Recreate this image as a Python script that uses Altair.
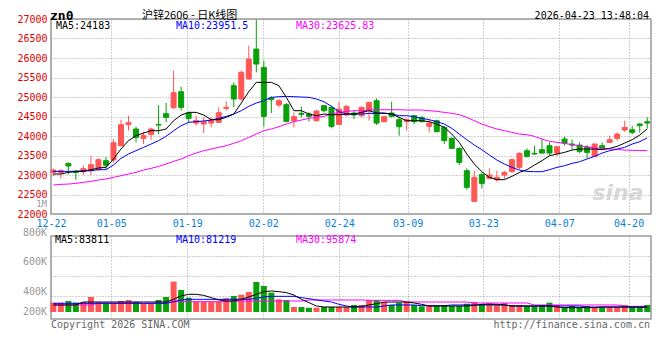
import json
import altair as alt
import pandas as pd

# ---------------- data ----------------
opens = [23067, 23059, 23298, 23102, 23085, 23110, 23136, 23367, 23384, 23751,
         24290, 24179, 23939, 24042, 24298, 24572, 24726, 25136, 24589, 24332,
         24307, 24332, 24350, 24709, 25290, 24948, 25461, 26230, 25760, 24974,
         24794, 24803, 24392, 24580, 24563, 24392, 24777, 24734, 24298, 24538,
         24589, 24521, 24649, 24905, 24367, 24589, 24418, 24367, 24521, 24478,
         24247, 24392, 24221, 23939, 23683, 23110, 22324, 23008, 22914, 22880,
         22999, 23085, 23196, 23623, 23555, 23649, 23751, 23563, 23922, 23794,
         23768, 23709, 23478, 23751, 23837, 23939, 24153, 24161, 24307, 24367]
highs = [23170, 23153, 23324, 23127, 23238, 23495, 23426, 23461, 23922, 24418,
         24521, 24238, 24110, 24213, 24794, 24845, 25674, 25264, 24623, 24521,
         24478, 24478, 24734, 24888, 25375, 25674, 26315, 26980, 25931, 25016,
         24948, 24845, 24606, 24751, 24606, 24666, 24794, 24777, 24879, 24794,
         24649, 24760, 24879, 24965, 24521, 24879, 24478, 24452, 24538, 24503,
         24418, 24418, 24264, 23965, 23709, 23170, 23110, 23067, 23170, 23110,
         23110, 23426, 23580, 23683, 23751, 23922, 23837, 23734, 23982, 23905,
         23837, 23768, 23811, 23837, 24008, 24093, 24392, 24264, 24332, 24478]
lows = [22965, 22914, 23016, 22880, 22999, 22999, 23110, 23153, 23324, 23734,
        24136, 23837, 23794, 23905, 24050, 24350, 24691, 24649, 24350, 24264,
        24076, 24221, 24332, 24649, 24734, 24905, 25444, 25632, 24238, 24589,
        24734, 24350, 24221, 24478, 24367, 24367, 24606, 24196, 24281, 24521,
        24435, 24478, 24392, 24281, 24350, 24478, 24008, 24136, 24307, 24350,
        24093, 24093, 23794, 23666, 23256, 22623, 22324, 22657, 22897, 22828,
        22897, 23050, 23153, 23444, 23512, 23546, 23512, 23495, 23751, 23649,
        23563, 23427, 23461, 23666, 23819, 23880, 24110, 24042, 24093, 24196]
closes = [23127, 23110, 23230, 23067, 23162, 23264, 23392, 23247, 23828, 24290,
          24341, 23965, 24008, 24179, 24281, 24478, 25110, 24734, 24452, 24401,
          24367, 24409, 24597, 24734, 24948, 25632, 25973, 25845, 24503, 24931,
          24905, 24375, 24495, 24555, 24503, 24640, 24649, 24247, 24691, 24760,
          24538, 24734, 24862, 24332, 24495, 24503, 24238, 24418, 24367, 24367,
          24332, 24110, 23880, 23683, 23324, 22683, 22939, 22785, 22999, 22939,
          23067, 23392, 23555, 23478, 23538, 23563, 23563, 23725, 23819, 23768,
          23606, 23580, 23794, 23691, 23905, 24050, 24221, 24093, 24264, 24332]
ma5 = [23025, 23025, 23067, 23085, 23093, 23136, 23179, 23196, 23410, 23666,
       23880, 24008, 24076, 24136, 24136, 24179, 24392, 24538, 24606, 24606,
       24538, 24418, 24418, 24478, 24563, 24845, 25136, 25375, 25375, 25375,
       25290, 24991, 24649, 24649, 24563, 24521, 24563, 24546, 24546, 24563,
       24563, 24606, 24649, 24589, 24589, 24563, 24478, 24392, 24392, 24392,
       24367, 24307, 24221, 24050, 23837, 23538, 23281, 23085, 22939, 22880,
       22880, 22965, 23067, 23136, 23256, 23367, 23495, 23538, 23580, 23640,
       23666, 23666, 23666, 23649, 23683, 23734, 23819, 23905, 24025, 24183]
ma10 = [23093, 23093, 23093, 23093, 23110, 23110, 23136, 23136, 23256, 23427,
        23538, 23623, 23709, 23794, 23880, 23991, 24136, 24264, 24350, 24367,
        24384, 24409, 24452, 24503, 24563, 24649, 24760, 24845, 24905, 24991,
        25008, 25016, 25008, 24999, 24991, 24948, 24879, 24760, 24623, 24563,
        24563, 24563, 24580, 24580, 24580, 24563, 24521, 24521, 24495, 24452,
        24418, 24367, 24307, 24196, 24050, 23905, 23768, 23649, 23512, 23384,
        23281, 23196, 23127, 23093, 23085, 23085, 23136, 23196, 23238, 23298,
        23341, 23410, 23478, 23563, 23623, 23666, 23709, 23794, 23854, 23951.5]
ma30 = [22743, 22760, 22768, 22785, 22811, 22837, 22871, 22897, 22939, 22982,
        23025, 23067, 23127, 23170, 23221, 23281, 23350, 23410, 23495, 23563,
        23623, 23666, 23709, 23751, 23811, 23880, 23965, 24050, 24136, 24179,
        24238, 24307, 24367, 24409, 24452, 24478, 24503, 24563, 24606, 24632,
        24649, 24649, 24666, 24674, 24674, 24674, 24674, 24666, 24666, 24666,
        24649, 24632, 24606, 24580, 24546, 24478, 24392, 24307, 24238, 24179,
        24136, 24093, 24050, 24033, 23991, 23922, 23862, 23837, 23811, 23777,
        23751, 23725, 23691, 23683, 23666, 23652, 23640, 23632, 23628, 23625.83]
volumes = [157000, 157000, 185000, 157000, 168000, 252000, 168000, 157000, 157000, 185000,
           202000, 168000, 140000, 140000, 202000, 252000, 510000, 370000, 241000, 168000,
           168000, 168000, 168000, 230000, 269000, 291000, 336000, 504000, 437000, 325000,
           213000, 202000, 84000, 84000, 73000, 73000, 84000, 84000, 84000, 84000,
           118000, 118000, 202000, 202000, 168000, 118000, 157000, 174000, 118000, 95000,
           118000, 101000, 118000, 101000, 101000, 140000, 168000, 129000, 151000, 118000,
           151000, 118000, 118000, 101000, 101000, 118000, 157000, 118000, 84000, 101000,
           84000, 101000, 84000, 84000, 84000, 84000, 118000, 84000, 84000, 118000]
vol_ma5 = [118000, 118000, 118000, 118000, 168000, 168000, 168000, 168000, 168000, 168000,
           168000, 168000, 168000, 168000, 168000, 168000, 213000, 269000, 297000, 297000,
           280000, 241000, 202000, 185000, 185000, 213000, 252000, 297000, 342000, 353000,
           342000, 325000, 286000, 213000, 157000, 101000, 84000, 84000, 84000, 84000,
           84000, 95000, 118000, 140000, 168000, 168000, 168000, 168000, 151000, 129000,
           101000, 101000, 101000, 101000, 101000, 101000, 112000, 129000, 129000, 129000,
           118000, 101000, 101000, 101000, 101000, 101000, 101000, 84000, 73000, 73000,
           73000, 73000, 73000, 84000, 84000, 84000, 84000, 84000, 84000, 83811]
vol_ma10 = [146000, 146000, 146000, 146000, 146000, 146000, 146000, 146000, 146000, 146000,
            146000, 146000, 146000, 146000, 146000, 146000, 174000, 202000, 213000, 213000,
            213000, 213000, 213000, 213000, 213000, 213000, 213000, 230000, 252000, 263000,
            263000, 263000, 263000, 241000, 224000, 202000, 185000, 168000, 129000, 101000,
            84000, 84000, 84000, 84000, 101000, 118000, 118000, 118000, 118000, 106000,
            106000, 106000, 106000, 118000, 118000, 118000, 118000, 118000, 118000, 118000,
            118000, 101000, 101000, 101000, 101000, 101000, 101000, 101000, 101000, 101000,
            101000, 84000, 84000, 84000, 84000, 84000, 84000, 84000, 84000, 81219]
vol_ma30 = [118000, 118000, 118000, 118000, 118000, 118000, 146000, 146000, 146000, 146000,
            146000, 146000, 146000, 146000, 146000, 146000, 174000, 174000, 174000, 174000,
            174000, 174000, 174000, 174000, 174000, 185000, 185000, 185000, 185000, 185000,
            185000, 185000, 185000, 185000, 202000, 202000, 202000, 202000, 202000, 202000,
            202000, 202000, 196000, 196000, 196000, 196000, 196000, 168000, 168000, 168000,
            168000, 168000, 168000, 168000, 168000, 168000, 151000, 151000, 151000, 151000,
            151000, 151000, 151000, 151000, 118000, 118000, 118000, 118000, 118000, 118000,
            118000, 118000, 118000, 118000, 118000, 118000, 95000, 95000, 95000, 95874]

tick_pos = [-0.31, 7.71, 17.82, 27.93, 38.03, 47.13, 57.18, 67.29, 76.52]
tick_labels = ["12-22", "01-05", "01-19", "02-02", "02-24", "03-09", "03-23", "04-07", "04-20"]
price_ticks = [22000, 22500, 23000, 23500, 24000, 24500, 25000, 25500, 26000, 26500, 27000]
vol_grid = [264000, 600000, 936000]
vol_label_text = ["800K", "600K", "400K", "200K"]
vol_label_pos = [1327200, 848400, 336000, 0]

# ---------------- chart ----------------
n = len(closes)
df = pd.DataFrame({
    "i": list(range(n)),
    "open": opens, "high": highs, "low": lows, "close": closes,
    "vol": volumes, "ma5": ma5, "ma10": ma10, "ma30": ma30,
    "vma5": vol_ma5, "vma10": vol_ma10, "vma30": vol_ma30,
})
df["dir"] = ["up" if c >= o else "down" for o, c in zip(opens, closes)]

RED = "#ff5656"
GREEN = "#09a009"
MONO = "DejaVu Sans Mono"
GRID = "#a0a0a0"

xscale = alt.Scale(domain=[-0.31, 79.5], nice=False, zero=False, padding=0)
label_expr = f"{json.dumps(tick_labels)}[indexof({json.dumps(tick_pos)}, datum.value)]"
x_main = alt.X("i:Q", scale=xscale, axis=alt.Axis(
    values=tick_pos, labelExpr=label_expr, title=None, grid=True, gridColor=GRID,
    gridDash=[1, 2], ticks=False, tickSize=0, domain=False, labelColor="#0a7fd6",
    labelFont=MONO, labelFontSize=10, labelPadding=4, labelFlush=False,
    labelOverlap=False, labelBound=False))
x_vol = alt.X("i:Q", scale=xscale, axis=alt.Axis(
    values=tick_pos, labels=False, title=None, grid=True, gridColor=GRID,
    gridDash=[1, 2], ticks=False, tickSize=0, domain=False))

yscale = alt.Scale(domain=[22000, 27000], nice=False, zero=False, padding=0)
y_axis = alt.Axis(values=price_ticks, format="d", title=None, grid=True, gridColor=GRID,
                  gridDash=[1, 2], ticks=False, tickSize=0, domain=False,
                  labelColor="#e00000", labelFont=MONO, labelFontSize=10, labelPadding=4)


def Y(field):
    return alt.Y(field, scale=yscale, axis=y_axis)


dir_scale = alt.Scale(domain=["up", "down"], range=[RED, GREEN])
base = alt.Chart(df)

wicks = base.mark_rule(strokeWidth=1).encode(
    x=x_main, y=Y("low:Q"), y2="high:Q",
    color=alt.Color("dir:N", scale=dir_scale, legend=None))
bodies = base.mark_bar(size=5, strokeWidth=1).encode(
    x=x_main, y=Y("open:Q"), y2="close:Q",
    fill=alt.Fill("dir:N", scale=dir_scale, legend=None),
    stroke=alt.Stroke("dir:N", scale=dir_scale, legend=None))
l30 = base.mark_line(color="#ff00ff", strokeWidth=1).encode(x=x_main, y=Y("ma30:Q"))
l10 = base.mark_line(color="#0000ff", strokeWidth=1).encode(x=x_main, y=Y("ma10:Q"))
l5 = base.mark_line(color="#000000", strokeWidth=1).encode(x=x_main, y=Y("ma5:Q"))


def note(text, x, y, color, size=10, align="left", font=MONO, weight="normal",
         style="normal", opacity=1.0):
    return alt.Chart(pd.DataFrame({"t": [text]})).mark_text(
        align=align, baseline="middle", font=font, fontSize=size, color=color,
        fontWeight=weight, fontStyle=style, opacity=opacity
    ).encode(x=alt.value(x), y=alt.value(y), text="t:N")


one_m = alt.Chart(pd.DataFrame({"t": ["1M"], "v": [22250]})).mark_text(
    align="right", baseline="middle", font=MONO, fontSize=9, color="#999999"
).encode(x=alt.value(-4), y=Y("v:Q"), text="t:N")

main = alt.layer(
    wicks, bodies, l30, l10, l5, one_m,
    note("sina", 567, 174, "#cfcfcf", size=22, align="center", font="DejaVu Sans",
         weight="bold", style="italic", opacity=0.8),
    note("zn0", -1, -3.5, "#000000", size=13, weight="bold"),
    note("沪锌2606 - 日K线图", 91, -3, "#000000", size=11, font="Noto Sans CJK SC"),
    note("2026-04-23 13:48:04", 598, -3.5, "#000000", align="right"),
    note("MA5:24183", 5, 6.5, "#000000"),
    note("MA10:23951.5", 125, 6.5, "#0000ff"),
    note("MA30:23625.83", 245, 6.5, "#ff00ff"),
).properties(width=600, height=195)

vscale = alt.Scale(domain=[-117600, 1276800], nice=False, zero=False, padding=0)
v_axis = alt.Axis(values=vol_grid, labels=False, title=None, grid=True, gridColor=GRID,
                  gridDash=[1, 2], ticks=False, tickSize=0, domain=False)


def VY(field):
    return alt.Y(field, scale=vscale, axis=v_axis)


vbars = base.mark_bar(size=6).encode(
    x=x_vol, y=VY("vol:Q"), y2=alt.datum(0),
    color=alt.Color("dir:N", scale=dir_scale, legend=None))
vl30 = base.mark_line(color="#ff00ff", strokeWidth=1).encode(x=x_vol, y=VY("vma30:Q"))
vl10 = base.mark_line(color="#0000ff", strokeWidth=1).encode(x=x_vol, y=VY("vma10:Q"))
vl5 = base.mark_line(color="#000000", strokeWidth=1).encode(x=x_vol, y=VY("vma5:Q"))
vlabels = alt.Chart(pd.DataFrame({"t": vol_label_text, "v": vol_label_pos})).mark_text(
    align="right", baseline="middle", font=MONO, fontSize=10, color="#999999"
).encode(x=alt.value(-4), y=VY("v:Q"), text="t:N")

vol = alt.layer(
    vbars, vl30, vl10, vl5, vlabels,
    note("MA5:83811", 4, 3.5, "#000000"),
    note("MA10:81219", 125, 3.5, "#0000ff"),
    note("MA30:95874", 245, 3.5, "#ff00ff"),
    note("Copyright 2026 SINA.COM", 0, 88.5, "#666666"),
    note("http://finance.sina.com.cn", 599, 88.5, "#666666", align="right"),
).properties(width=600, height=83)

chart = alt.vconcat(main, vol, spacing=22, bounds="flush").properties(
    padding={"left": 8, "top": 0, "right": 0, "bottom": 0}
).configure_view(stroke="#999999", strokeWidth=1.5)

chart.save("out.html", embed_options={"renderer": "svg", "actions": False})
